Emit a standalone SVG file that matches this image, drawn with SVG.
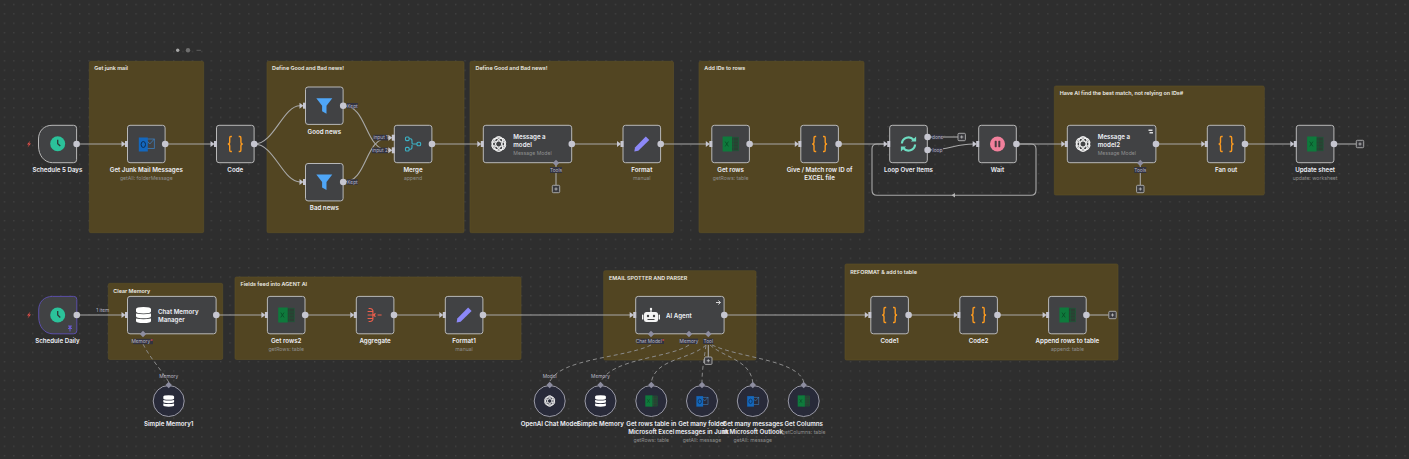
<svg xmlns="http://www.w3.org/2000/svg" width="1409" height="459" viewBox="0 0 1409 459">
<style>
text{font-family:Inter,"Liberation Sans",sans-serif;text-anchor:middle}
.t{font-size:6.2px;font-weight:600;fill:#eef0f6}
.tl{text-anchor:start}
.s{font-size:5.1px;fill:#8f8f8f}
.h{font-size:5.4px;font-weight:600;fill:#ecebe4;text-anchor:start}
.p{font-size:4.8px;fill:#b9b9c6}
.sticky{fill:#524522;stroke:#5e5026;stroke-width:.6}
.box{fill:#414244;stroke:#b8b8b8;stroke-width:1}
.circ{fill:#282a39;stroke:#9a9aa6;stroke-width:1}
.e{fill:none;stroke:#a8a8a8;stroke-width:1.1}
.d{fill:none;stroke:#8b8b8b;stroke-width:1;stroke-dasharray:4 3}
.o{fill:#c6c6d0}
.lab{fill:#333340}
</style>
<defs>
<pattern id="dots" width="9.4" height="9.4" patternUnits="userSpaceOnUse"><rect x="4" y="4" width="1" height="1" fill="#505050"/></pattern>
<g id="in"><path d="M-6-3-2 0-6 3Z" fill="#c6c6d0"/><rect x="-2.5" y="-3" width="3" height="6" fill="#c6c6d0"/></g>
<g id="dm"><path d="M0-3.2 3.2 0 0 3.2-3.2 0Z" fill="#8d8da0"/></g>
<g id="plus"><rect x="-3.7" y="-3.7" width="7.4" height="7.4" rx="1" fill="#3a3a3e" stroke="#b0b0b0" stroke-width=".9"/><path d="M-1.6 0H1.6M0-1.6V1.6" stroke="#d0d0d0" stroke-width=".7"/></g>
<g id="i-clock"><circle r="7.5" fill="#2bc29a"/><path d="M0-4V0L2.6 2.4" fill="none" stroke="#2c3a36" stroke-width="1.3"/></g>
<g id="i-code" fill="none" stroke="#fb9a20" stroke-width="1.4"><path d="M-3.4-7.5H-4.6Q-5.6-7.5-5.6-6V-2Q-5.6 0-7.5 0-5.6 0-5.6 2V6Q-5.6 7.5-4.6 7.5H-3.4"/><path d="M3.4-7.5H4.6Q5.6-7.5 5.6-6V-2Q5.6 0 7.5 0 5.6 0 5.6 2V6Q5.6 7.5 4.6 7.5H3.4"/></g>
<g id="i-filter"><path d="M-8-7.5H8L2.2 0V8L-2.2 5.5V0Z" fill="#4fa6f7"/></g>
<g id="i-merge" fill="none" stroke="#3cb2c6" stroke-width="1.1"><rect x="-7.5" y="-7" width="3.6" height="3.6" rx="1"/><rect x="-7.5" y="3.4" width="3.6" height="3.6" rx="1"/><rect x="4" y="-1.8" width="3.6" height="3.6" rx="1"/><path d="M-3.9-5.2H-2.5Q-1-5.2-1-3V-1Q-1 0 0 0H4M-3.9 5.2H-2.5Q-1 5.2-1 3V1"/></g>
<g id="i-pencil"><path d="M4-7.5 7.5-4 -3.5 6.8-7.5 7.5-6.8 3.5Z" fill="#8c88f8"/></g>
<g id="i-excel"><rect x="-2" y="-6.8" width="10" height="13.6" fill="#2b3f33" stroke="#1a5d38" stroke-width=".6"/><path d="M-2-3H8M-2 0H8M-2 3H8M3-6.8V6.8" stroke="#1a5d38" stroke-width=".6"/><path d="M-8-7.5H1.5V7.5H-8Z" fill="#0e7a3c"/><path d="M-5.4-2.4-2.2 2.4M-2.2-2.4-5.4 2.4" stroke="#0a4f28" stroke-width=".9"/></g>
<g id="i-outlook"><rect x="-1" y="-5" width="9" height="9.5" fill="none" stroke="#3d7dbb" stroke-width=".8"/><path d="M-1-5 3.5 0 8-5" fill="none" stroke="#3d7dbb" stroke-width=".8"/><path d="M-7.5-6.5H1.5V7.5H-7.5Z" fill="#1467bd"/><ellipse cx="-3" cy=".5" rx="2.2" ry="3" fill="none" stroke="#0d2d52" stroke-width="1"/></g>
<g id="i-ai" fill="none" stroke="#f2f2f2" stroke-width=".9"><ellipse cy="-1.5" rx="7" ry="4.4" transform="rotate(0)"/><ellipse cy="-1.5" rx="7" ry="4.4" transform="rotate(60)"/><ellipse cy="-1.5" rx="7" ry="4.4" transform="rotate(120)"/><ellipse cy="-1.5" rx="7" ry="4.4" transform="rotate(180)"/><ellipse cy="-1.5" rx="7" ry="4.4" transform="rotate(240)"/><ellipse cy="-1.5" rx="7" ry="4.4" transform="rotate(300)"/></g>
<g id="i-db" fill="#fff"><path d="M-7.5-6Q-7.5-8 0-8 7.5-8 7.5-6V-3.5Q7.5-1.6 0-1.6-7.5-1.6-7.5-3.5Z"/><path d="M-7.5-1.5Q0 0 7.5-1.5V1.2Q7.5 3.2 0 3.2-7.5 3.2-7.5 1.2Z"/><path d="M-7.5 3.4Q0 5 7.5 3.4V6Q7.5 8 0 8-7.5 8-7.5 6Z"/></g>
<g id="i-loop" fill="none" stroke="#6edcc1" stroke-width="2.2"><path d="M-6.6-.5A6.6 6.6 0 0 1 5-4.2"/><path d="M6.6 .5A6.6 6.6 0 0 1-5 4.2"/><path d="M7.6-7.5V-2.4H2.4Z" fill="#6edcc1" stroke="none"/><path d="M-7.6 7.5V2.4H-2.4Z" fill="#6edcc1" stroke="none"/></g>
<g id="i-wait"><circle r="7.5" fill="#f1809c"/><rect x="-2.8" y="-3.2" width="2" height="6.4" rx=".6" fill="#4a3a40"/><rect x=".8" y="-3.2" width="2" height="6.4" rx=".6" fill="#4a3a40"/></g>
<g id="i-agg" fill="none" stroke="#ee5f4c" stroke-width="1.1"><path d="M-6.5-6.5H-5Q-3-6.5-2.2-4.5V4.5Q-3 6.5-5 6.5H-6.5M-7.5-3.5H-2.2M-7.5 0H-2.2M-7.5 3.5H-2.2M-2.2 0Q0 0 0-2M-2.2 0Q0 0 0 2M2.5 0H6.5"/></g>
<g id="i-robot" fill="#f4f4f4"><rect x="-7" y="-4" width="14" height="10" rx="2.5"/><rect x="-9" y="-1.5" width="1.4" height="5" rx=".6"/><rect x="7.6" y="-1.5" width="1.4" height="5" rx=".6"/><rect x="-.6" y="-6.5" width="1.2" height="2.5"/><circle cy="-7" r="1.2"/><circle cx="-3" cy="0" r="1.2" fill="#414244"/><circle cx="3" cy="0" r="1.2" fill="#414244"/><rect x="-3.5" y="3" width="7" height="1" fill="#414244"/></g>
<path id="bolt" d="M1.5-3.5-2 .6H0L-1.5 3.5 2-.6H0Z" fill="#e8504a"/>
</defs>
<rect width="1409" height="459" fill="#2e2e2e"/>
<rect width="1409" height="459" fill="url(#dots)"/>
<g id="canvas-controls"><circle cx="177.7" cy="50.3" r="1.7" fill="#a8a8a8"/><circle cx="188" cy="50.3" r="2.2" fill="#6f6f6f"/><rect x="196.5" y="49.8" width="4.4" height="1" fill="#5c5c5c"/></g>

<g id="sticky-notes">
<g id="g-junk"><rect class="sticky" x="89.3" y="61.3" width="114.4" height="171.4" rx="1.5"/><text class="h" x="94.3" y="69.7">Get junk mail</text></g>
<g id="g-define1"><rect class="sticky" x="267" y="61.3" width="197" height="171.4" rx="1.5"/><text class="h" x="272" y="69.7">Define Good and Bad news!</text></g>
<g id="g-define2"><rect class="sticky" x="470" y="61.3" width="203.5" height="171.4" rx="1.5"/><text class="h" x="475.5" y="69.7">Define Good and Bad news!</text></g>
<g id="g-ids"><rect class="sticky" x="699" y="61.3" width="165" height="171.4" rx="1.5"/><text class="h" x="704.3" y="69.7">Add IDs to rows</text></g>
<g id="g-best"><rect class="sticky" x="1054.3" y="86" width="210" height="109" rx="1.5"/><text class="h" x="1059.7" y="95">Have AI find the best match, not relying on IDs#</text></g>
<g id="g-clear"><rect class="sticky" x="108.3" y="283.3" width="114.4" height="76.2" rx="1.5"/><text class="h" x="113.3" y="293">Clear Memory</text></g>
<g id="g-fields"><rect class="sticky" x="235" y="277" width="286" height="82.5" rx="1.5"/><text class="h" x="240.5" y="285.8">Fields feed into AGENT AI</text></g>
<g id="g-email"><rect class="sticky" x="603.7" y="270.7" width="152.3" height="89.3" rx="1.5"/><text class="h" x="609" y="279.8">EMAIL SPOTTER AND PARSER</text></g>
<g id="g-reformat"><rect class="sticky" x="845" y="264" width="273" height="96" rx="1.5"/><text class="h" x="850.3" y="273.7">REFORMAT &amp; add to table</text></g>
</g>

<g id="connectors">
<path class="e" d="M76.7 144H122"/>
<path class="e" d="M165.5 144H211"/>
<path class="e" d="M254.5 144C274 144 283 105.7 300 105.7"/>
<path class="e" d="M254.5 144C274 144 283 182 300 182"/>
<path class="e" d="M343.5 105.7C368 105.7 364 150.3 389 150.3"/>
<path class="e" d="M343.5 182C368 182 364 137.7 389 137.7"/>
<path class="e" d="M432.5 144H478"/>
<path class="e" d="M572 144H618"/>
<path class="e" d="M661.5 144H706"/>
<path class="e" d="M750 144H795"/>
<path class="e" d="M839 144H884"/>
<path class="e" d="M928 137H958"/>
<path class="e" d="M928 150C950 150 955 144 973 144"/>
<path class="e" d="M1017 144H1062"/>
<path class="e" d="M1017 144H1031Q1036 144 1036 149V190Q1036 195.3 1031 195.3H877Q872 195.3 872 190V149Q872 144 877 144H884"/>
<path d="M955 193 951.5 195.3 955 197.6Z" fill="#b5b5b5"/>
<path class="e" d="M1156.3 144H1202"/>
<path class="e" d="M1245.5 144H1291"/>
<path class="e" d="M1334.5 144H1356"/>
<path class="e" d="M556 163V185"/>
<path class="e" d="M1140.3 163V185"/>
<path class="e" d="M76.7 315H122"/>
<path class="e" d="M216.3 315H262"/>
<path class="e" d="M305.5 315H351"/>
<path class="e" d="M394.3 315H440"/>
<path class="e" d="M483.3 315H630"/>
<path class="e" d="M724.5 315H865"/>
<path class="e" d="M908.8 315H954"/>
<path class="e" d="M998 315H1043"/>
<path class="e" d="M1086.8 315H1108.8"/>
<path class="e" d="M708.3 345V357"/>
<path class="d" d="M143 344C150 358 160 368 168.7 382"/>
<path class="d" d="M651 345C625 358 560 358 549.7 382"/>
<path class="d" d="M689 345C670 358 612 358 600.7 382"/>
<path class="d" d="M706 345C690 360 656 358 651.3 382"/>
<path class="d" d="M706 345C704 360 702 370 702 382"/>
<path class="d" d="M710 345C725 358 750 360 752.7 382"/>
<path class="d" d="M712 345C740 358 798 360 803.7 382"/>
</g>

<g id="n-schedule5"><path class="box" d="M52 125.3H73.6Q76.6 125.3 76.6 128.3V159.7Q76.6 162.7 73.6 162.7H52.6C44 162.7 38.5 155 38.5 146V139C38.5 131 44 125.3 52 125.3Z"/><use href="#i-clock" x="57.7" y="143.7"/><use href="#bolt" x="29" y="144"/><circle class="o" cx="76.6" cy="144" r="3.3"/><text class="t" x="57.4" y="171.7">Schedule 5 Days</text></g>
<g id="n-outlook"><rect class="box" x="127.5" y="125.3" width="37.6" height="37.4" rx="2.5"/><use href="#i-outlook" x="146.3" y="144"/><use href="#in" x="127.5" y="144"/><circle class="o" cx="165.2" cy="144" r="3.3"/><text class="t" x="146.3" y="171.7">Get Junk Mail Messages</text><text class="s" x="146.3" y="180">getAll: folderMessage</text></g>
<g id="n-code"><rect class="box" x="216.5" y="125.3" width="37.6" height="37.4" rx="2.5"/><use href="#i-code" x="235.3" y="144"/><use href="#in" x="216.5" y="144"/><circle class="o" cx="254.2" cy="144" r="3.3"/><text class="t" x="235.3" y="171.7">Code</text></g>
<g id="n-good"><rect class="box" x="305.5" y="87" width="37.6" height="37.4" rx="2.5"/><use href="#i-filter" x="324.3" y="105.7"/><use href="#in" x="305.5" y="105.7"/><circle class="o" cx="343.2" cy="105.7" r="3.3"/><rect class="lab" x="347" y="103" width="11" height="5.4"/><text class="p" x="352.5" y="107.5">Kept</text><text class="t" x="324.3" y="133.6">Good news</text></g>
<g id="n-bad"><rect class="box" x="305.5" y="163.5" width="37.6" height="37.4" rx="2.5"/><use href="#i-filter" x="324.3" y="182"/><use href="#in" x="305.5" y="182"/><circle class="o" cx="343.2" cy="182" r="3.3"/><rect class="lab" x="347" y="179.3" width="11" height="5.4"/><text class="p" x="352.5" y="183.8">Kept</text><text class="t" x="324.3" y="209.8">Bad news</text></g>
<g id="n-merge"><rect class="box" x="394.3" y="125.3" width="37.6" height="37.4" rx="2.5"/><use href="#i-merge" x="413" y="144"/><use href="#in" x="394.3" y="137.7"/><use href="#in" x="394.3" y="150.3"/><circle class="o" cx="432" cy="144" r="3.3"/><rect class="lab" x="373.5" y="134.8" width="14.5" height="5.6"/><text class="p" x="380.7" y="139.3">input 1</text><rect class="lab" x="372" y="147.6" width="16" height="5.6"/><text class="p" x="380" y="152">input 2</text><text class="t" x="413" y="171.7">Merge</text><text class="s" x="413" y="180">append</text></g>
<g id="n-model"><rect class="box" x="483.3" y="125.3" width="88.4" height="37.4" rx="2.5"/><use href="#i-ai" x="498.7" y="144"/><use href="#in" x="483.3" y="144"/><circle class="o" cx="571.8" cy="144" r="3.3"/><text class="t tl" x="513.3" y="138.6">Message a</text><text class="t tl" x="513.3" y="146.6">model</text><text class="s tl" x="513.3" y="155">Message Model</text><use href="#dm" x="556" y="163"/><rect class="lab" x="550" y="167" width="12" height="6"/><text class="p" x="556" y="171.7">Tools</text><use href="#plus" x="556" y="189"/></g>
<g id="n-format"><rect class="box" x="623" y="125.3" width="37.6" height="37.4" rx="2.5"/><use href="#i-pencil" x="641.8" y="144"/><use href="#in" x="623" y="144"/><circle class="o" cx="660.7" cy="144" r="3.3"/><text class="t" x="641.8" y="171.7">Format</text><text class="s" x="641.8" y="180">manual</text></g>
<g id="n-getrows"><rect class="box" x="711.8" y="125.3" width="37.6" height="37.4" rx="2.5"/><use href="#i-excel" x="730.6" y="144"/><use href="#in" x="711.8" y="144"/><circle class="o" cx="749.6" cy="144" r="3.3"/><text class="t" x="730.6" y="171.7">Get rows</text><text class="s" x="730.6" y="180">getRows: table</text></g>
<g id="n-give"><rect class="box" x="800.8" y="125.3" width="37.6" height="37.4" rx="2.5"/><use href="#i-code" x="819.6" y="144"/><use href="#in" x="800.8" y="144"/><circle class="o" cx="838.6" cy="144" r="3.3"/><text class="t" x="819.6" y="171.7">Give / Match row ID of</text><text class="t" x="819.6" y="179.8">EXCEL file</text></g>
<g id="n-loop"><rect class="box" x="889.7" y="125.3" width="37.6" height="37.4" rx="2.5"/><use href="#i-loop" x="908.5" y="144"/><use href="#in" x="889.7" y="144"/><circle class="o" cx="927.6" cy="137" r="3.3"/><circle class="o" cx="927.6" cy="150" r="3.3"/><rect class="lab" x="932" y="134.6" width="11" height="5"/><text class="p" x="937.7" y="138.8">done</text><rect class="lab" x="932" y="147.6" width="11" height="5"/><text class="p" x="937.5" y="151.8">loop</text><use href="#plus" x="961.7" y="137"/><text class="t" x="908.5" y="171.7">Loop Over Items</text></g>
<g id="n-wait"><rect class="box" x="978.7" y="125.3" width="37.6" height="37.4" rx="2.5"/><use href="#i-wait" x="997.5" y="144"/><use href="#in" x="978.7" y="144"/><circle class="o" cx="1016.4" cy="144" r="3.3"/><text class="t" x="997.5" y="171.7">Wait</text></g>
<g id="n-model2"><rect class="box" x="1067.3" y="125.3" width="88.6" height="37.4" rx="2.5"/><use href="#i-ai" x="1083" y="144"/><use href="#in" x="1067.3" y="144"/><circle class="o" cx="1156" cy="144" r="3.3"/><text class="t tl" x="1097.7" y="138.6">Message a</text><text class="t tl" x="1097.7" y="146.6">model2</text><text class="s tl" x="1097.7" y="155">Message Model</text><path d="M1148.5 129.5H1152.5V131H1148.5ZM1149.5 132H1153V133.5H1149.5Z" fill="#dcdcdc"/><use href="#dm" x="1140.3" y="163"/><rect class="lab" x="1134.3" y="167" width="12" height="6"/><text class="p" x="1140.3" y="171.7">Tools</text><use href="#plus" x="1140.3" y="189"/></g>
<g id="n-fanout"><rect class="box" x="1207.3" y="125.3" width="37.6" height="37.4" rx="2.5"/><use href="#i-code" x="1226.1" y="144"/><use href="#in" x="1207.3" y="144"/><circle class="o" cx="1245" cy="144" r="3.3"/><text class="t" x="1226.1" y="171.7">Fan out</text></g>
<g id="n-update"><rect class="box" x="1296.3" y="125.3" width="37.6" height="37.4" rx="2.5"/><use href="#i-excel" x="1315.1" y="144"/><use href="#in" x="1296.3" y="144"/><circle class="o" cx="1334" cy="144" r="3.3"/><use href="#plus" x="1360" y="144"/><text class="t" x="1315.1" y="171.7">Update sheet</text><text class="s" x="1315.1" y="180">update: worksheet</text></g>

<g id="n-daily"><path d="M52.7 296.4H73.8Q76.8 296.4 76.8 299.4V330.8Q76.8 333.8 73.8 333.8H53C44 333.8 38.7 326 38.7 317V310C38.7 302 44 296.4 52.7 296.4Z" fill="#414244" stroke="#5b4fa8" stroke-width="1"/><use href="#i-clock" x="57.7" y="315"/><path d="M68 325.5H72L70.9 328H72V329H70.5V331.5H69.5V329H68V328H69.1Z" fill="#6a5acd"/><use href="#bolt" x="29" y="315"/><circle class="o" cx="76.8" cy="315" r="3.3"/><text class="p" x="102.7" y="311.5">1 item</text><text class="t" x="57.4" y="342.7">Schedule Daily</text></g>
<g id="n-memmgr"><rect class="box" x="127.5" y="296.4" width="88.6" height="37.4" rx="2.5"/><use href="#i-db" x="143.5" y="315"/><use href="#in" x="127.5" y="315"/><circle class="o" cx="216.3" cy="315" r="3.3"/><text class="t tl" x="158" y="314">Chat Memory</text><text class="t tl" x="158" y="322">Manager</text><use href="#dm" x="143" y="334"/><rect class="lab" x="133" y="338.8" width="20" height="5.4"/><text class="p" x="142" y="343">Memory<tspan fill="#e8504a">*</tspan></text></g>
<g id="n-simple1"><circle class="circ" cx="168.7" cy="401" r="15.5"/><use href="#i-db" transform="translate(168.7 401) scale(.72)"/><use href="#dm" x="168.7" y="385"/><text class="p" x="168.7" y="378">Memory</text><text class="t" x="168.7" y="426">Simple Memory1</text></g>
<g id="n-rows2"><rect class="box" x="267.4" y="296.4" width="37.6" height="37.4" rx="2.5"/><use href="#i-excel" x="286.2" y="315"/><use href="#in" x="267.4" y="315"/><circle class="o" cx="305.2" cy="315" r="3.3"/><text class="t" x="286.2" y="342.7">Get rows2</text><text class="s" x="286.2" y="351">getRows: table</text></g>
<g id="n-agg"><rect class="box" x="356.3" y="296.4" width="37.6" height="37.4" rx="2.5"/><use href="#i-agg" x="375.1" y="315"/><use href="#in" x="356.3" y="315"/><circle class="o" cx="394" cy="315" r="3.3"/><text class="t" x="375.1" y="342.7">Aggregate</text></g>
<g id="n-format1"><rect class="box" x="445.3" y="296.4" width="37.6" height="37.4" rx="2.5"/><use href="#i-pencil" x="464.1" y="315"/><use href="#in" x="445.3" y="315"/><circle class="o" cx="483" cy="315" r="3.3"/><text class="t" x="464.1" y="342.7">Format1</text><text class="s" x="464.1" y="351">manual</text></g>
<g id="n-agent"><rect class="box" x="635.7" y="296.4" width="88.4" height="37.4" rx="2.5"/><use href="#i-robot" x="651" y="316"/><use href="#in" x="635.7" y="315"/><circle class="o" cx="724.3" cy="315" r="3.3"/><text class="t tl" x="666" y="318">AI Agent</text><path d="M716 302.5H720M718.3 300.5 720.5 302.5 718.3 304.5" fill="none" stroke="#e8e8e8" stroke-width=".9"/><use href="#dm" x="651" y="334"/><use href="#dm" x="689" y="334"/><use href="#dm" x="708.3" y="334"/><rect class="lab" x="637" y="338.6" width="27" height="5.4"/><text class="p" x="650" y="342.8">Chat Model<tspan fill="#e8504a">*</tspan></text><rect class="lab" x="680" y="338.6" width="18" height="5.4"/><text class="p" x="689" y="342.8">Memory</text><rect class="lab" x="703" y="338.6" width="10.5" height="5.4"/><text class="p" x="708.3" y="342.8">Tool</text><use href="#plus" x="708.3" y="360.7"/></g>
<g id="n-chatmodel"><circle class="circ" cx="549.7" cy="401" r="15.5"/><use href="#i-ai" transform="translate(549.7 401) scale(.72)"/><use href="#dm" x="549.7" y="385"/><text class="p" x="549.7" y="378">Model</text><text class="t" x="549.7" y="426">OpenAI Chat Model</text></g>
<g id="n-simple"><circle class="circ" cx="600.5" cy="401" r="15.5"/><use href="#i-db" transform="translate(600.5 401) scale(.72)"/><use href="#dm" x="600.5" y="385"/><text class="p" x="600.5" y="378">Memory</text><text class="t" x="600.5" y="426">Simple Memory</text></g>
<g id="n-tbl"><circle class="circ" cx="651.3" cy="401" r="15.5"/><use href="#i-excel" transform="translate(651.3 401) scale(.75)"/><use href="#dm" x="651.3" y="385"/><text class="t" x="651.3" y="426">Get rows table in</text><text class="t" x="651.3" y="434">Microsoft Excel</text><text class="s" x="651.3" y="442">getRows: table</text></g>
<g id="n-folders"><circle class="circ" cx="702" cy="401" r="15.5"/><use href="#i-outlook" transform="translate(702 401) scale(.75)"/><use href="#dm" x="702" y="385"/><text class="t" x="702" y="426">Get many folder</text><text class="t" x="702" y="434">messages in Junk</text><text class="s" x="702" y="442">getAll: message</text></g>
<g id="n-msgs"><circle class="circ" cx="752.8" cy="401" r="15.5"/><use href="#i-outlook" transform="translate(752.8 401) scale(.75)"/><use href="#dm" x="752.8" y="385"/><text class="t" x="752.8" y="426">Get many messages</text><text class="t" x="752.8" y="434">in Microsoft Outlook</text><text class="s" x="752.8" y="442">getAll: message</text></g>
<g id="n-cols"><circle class="circ" cx="803.7" cy="401" r="15.5"/><use href="#i-excel" transform="translate(803.7 401) scale(.75)"/><use href="#dm" x="803.7" y="385"/><text class="t" x="803.7" y="426">Get Columns</text><text class="s" x="803.7" y="434">getColumns: table</text></g>
<g id="n-code1"><rect class="box" x="870.8" y="296.4" width="37.6" height="37.4" rx="2.5"/><use href="#i-code" x="889.6" y="315"/><use href="#in" x="870.8" y="315"/><circle class="o" cx="908.6" cy="315" r="3.3"/><text class="t" x="889.6" y="342.7">Code1</text></g>
<g id="n-code2"><rect class="box" x="959.8" y="296.4" width="37.6" height="37.4" rx="2.5"/><use href="#i-code" x="978.6" y="315"/><use href="#in" x="959.8" y="315"/><circle class="o" cx="997.5" cy="315" r="3.3"/><text class="t" x="978.6" y="342.7">Code2</text></g>
<g id="n-append"><rect class="box" x="1048.6" y="296.4" width="37.6" height="37.4" rx="2.5"/><use href="#i-excel" x="1067.4" y="315"/><use href="#in" x="1048.6" y="315"/><circle class="o" cx="1086.4" cy="315" r="3.3"/><use href="#plus" x="1112.5" y="315"/><text class="t" x="1067.4" y="342.7">Append rows to table</text><text class="s" x="1067.4" y="351">append: table</text></g>
</svg>
